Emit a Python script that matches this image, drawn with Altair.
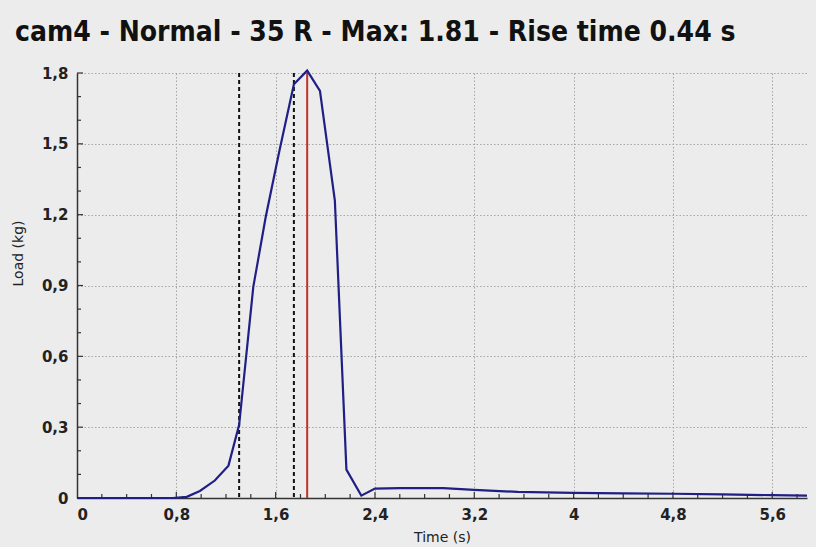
import altair as alt
import pandas as pd

# ---- data ----
time_s = [0.0, 0.4, 0.77, 0.884, 0.99, 1.11, 1.22, 1.306, 1.42, 1.52, 1.63, 1.747,
          1.854, 1.957, 2.077, 2.17, 2.29, 2.40, 2.6, 2.95, 3.2, 3.55, 4.0, 4.4,
          4.8, 5.2, 5.6, 5.88]
load_kg = [0.0, 0.0, 0.0, 0.005, 0.03, 0.074, 0.137, 0.31, 0.894, 1.19, 1.47, 1.752,
           1.81, 1.724, 1.26, 0.12, 0.01, 0.04, 0.042, 0.042, 0.034, 0.026, 0.022, 0.02,
           0.018, 0.015, 0.012, 0.01]

rise_marks = [1.306, 1.747]     # dashed lines (rise-time window)
peak_mark = [1.854]             # red line at maximum

x_major = [0, 0.8, 1.6, 2.4, 3.2, 4.0, 4.8, 5.6]
x_minor = [0.2, 0.4, 0.6, 1.0, 1.2, 1.4, 1.8, 2.0, 2.2, 2.6, 2.8, 3.0, 3.4, 3.6, 3.8,
           4.2, 4.4, 4.6, 5.0, 5.2, 5.4, 5.8]
y_major = [0, 0.3, 0.6, 0.9, 1.2, 1.5, 1.8]
y_minor = [0.1, 0.2, 0.4, 0.5, 0.7, 0.8, 1.0, 1.1, 1.3, 1.4, 1.6, 1.7]

title_text = "cam4 - Normal - 35 R - Max: 1.81 - Rise time 0.44 s"

W, H = 730, 425
X_DOMAIN = [0, 5.88]
Y_DOMAIN = [0, 1.8]

curve_df = pd.DataFrame({"time": time_s, "load": load_kg})
label_expr = "replace(toString(round(datum.value*10)/10), '.', ',')"

xs = alt.Scale(domain=X_DOMAIN, nice=False, zero=False)
ys = alt.Scale(domain=Y_DOMAIN, nice=False)

curve = alt.Chart(curve_df).mark_line(color="#1f1f85", strokeWidth=2.2).encode(
    x=alt.X("time:Q", scale=xs,
            axis=alt.Axis(values=x_major, title="Time (s)", labelExpr=label_expr,
                          ticks=False, tickSize=0, labelPadding=9,
                          titleY=32, titleBaseline="top")),
    y=alt.Y("load:Q", scale=ys,
            axis=alt.Axis(values=y_major, title="Load (kg)", labelExpr=label_expr,
                          ticks=False, tickSize=0, labelPadding=9,
                          titleX=-59, titleY=180, titleAlign="center",
                          titleBaseline="middle")),
)

dashed = alt.Chart(pd.DataFrame({"time": rise_marks})).mark_rule(
    color="#111111", strokeWidth=2, strokeDash=[4, 3]
).encode(x="time:Q")

peak = alt.Chart(pd.DataFrame({"time": peak_mark})).mark_rule(
    color="#c0332b", strokeWidth=2
).encode(x="time:Q")

xt_major = alt.Chart(pd.DataFrame({"time": x_major[1:]})).mark_rule(
    color="#333333", strokeWidth=1.2
).encode(x="time:Q", y=alt.value(H), y2=alt.value(H - 6))
xt_minor = alt.Chart(pd.DataFrame({"time": x_minor})).mark_rule(
    color="#333333", strokeWidth=1.2
).encode(x="time:Q", y=alt.value(H), y2=alt.value(H - 4))
yt_major = alt.Chart(pd.DataFrame({"load": y_major[1:]})).mark_rule(
    color="#333333", strokeWidth=1.2
).encode(y="load:Q", x=alt.value(0), x2=alt.value(6))
yt_minor = alt.Chart(pd.DataFrame({"load": y_minor})).mark_rule(
    color="#333333", strokeWidth=1.2
).encode(y="load:Q", x=alt.value(0), x2=alt.value(4))

chart = alt.layer(
    dashed, peak, xt_major, xt_minor, yt_major, yt_minor, curve
).properties(
    width=W, height=H,
    autosize=alt.AutoSizeParams(type="none"),
    padding={"left": 77, "top": 73, "right": 9, "bottom": 49},
    background="#ececec",
    title=alt.TitleParams(
        text=title_text, anchor="start", frame="group", dx=-62, offset=19,
        font="Liberation Sans Narrow, DejaVu Sans Condensed, Liberation Sans",
        fontSize=28, fontWeight="bold", color="#111111",
    ),
).configure_view(stroke=None).configure_axis(
    grid=True, gridColor="#a5a5a5", gridDash=[1.5, 2], gridWidth=1,
    domainColor="#333333", domainWidth=1.5,
    labelFont="DejaVu Sans", labelFontSize=15, labelFontWeight="bold",
    labelColor="#222222",
    titleFont="DejaVu Sans", titleFontSize=14, titleFontWeight="normal",
    titleColor="#222222",
)

chart.save("out.html", embed_options={"renderer": "svg", "actions": False})
